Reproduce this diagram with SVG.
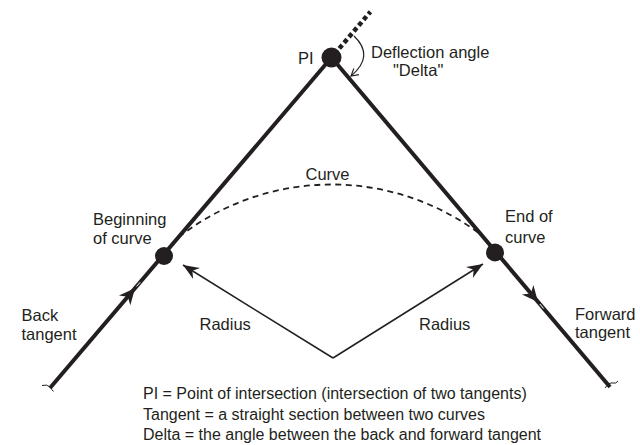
<svg xmlns="http://www.w3.org/2000/svg" width="640" height="445" viewBox="0 0 640 445">
  <defs>
    <style>
      .lbl { font-family: "Liberation Sans", Arial, sans-serif; font-size: 16.5px; fill: #231f20; }
      .note { font-family: "Liberation Sans", Arial, sans-serif; font-size: 16px; fill: #231f20; }
      .tangent { stroke: #231f20; stroke-width: 4; fill: none; stroke-linecap: butt; }
      .ext { stroke: #231f20; stroke-width: 4.5; fill: none; stroke-dasharray: 4.5 3; }
      .curve { stroke: #231f20; stroke-width: 1.8; fill: none; stroke-dasharray: 6 4.5; }
      .radius { stroke: #231f20; stroke-width: 1.5; fill: none; }
      .pt { fill: #231f20; }
      .barb { fill: #231f20; }
      .hair { stroke: #ffffff; stroke-width: 1; }
      .tick { stroke: #231f20; stroke-width: 1; fill: none; }
    </style>
    <marker id="rad-head" viewBox="-17 -8 18 16" markerWidth="18" markerHeight="16" refX="0" refY="0" orient="auto" markerUnits="userSpaceOnUse">
      <path d="M0,0 L-16,-6.5 L-11,0 L-16,6.5 Z" fill="#231f20"/>
    </marker>
    <marker id="open-head" viewBox="-10 -6 11 12" markerWidth="11" markerHeight="12" refX="0" refY="0" orient="auto" markerUnits="userSpaceOnUse">
      <path d="M-7,-4 L0,0 L-7,4" fill="none" stroke="#231f20" stroke-width="1.1"/>
    </marker>
  </defs>

  <g id="connectors">
    <!-- back tangent -->
    <line class="tangent" x1="50" y1="388" x2="331.5" y2="57.5"/>
    <!-- forward tangent -->
    <line class="tangent" x1="331.5" y1="57.5" x2="610" y2="387"/>
    <!-- extension beyond PI -->
    <line class="ext" x1="339.3" y1="48.4" x2="370.4" y2="11.8"/>
    <!-- curve -->
    <path class="curve" d="M179,237 A247.7,247.7 0 0 1 484,237"/>
    <!-- radius lines -->
    <line class="radius" x1="333" y1="358" x2="183" y2="265" marker-end="url(#rad-head)"/>
    <line class="radius" x1="333" y1="358" x2="483" y2="264" marker-end="url(#rad-head)"/>
    <!-- deflection angle arrow -->
    <path class="radius" d="M354,36 Q375,56 351,76" marker-end="url(#open-head)" style="stroke-width:1.2"/>
    <!-- tangent direction arrows -->
    <path class="barb" d="M0,0 L-16,-7.5 L-11,0 L-16,7.5 Z" transform="translate(135,288.3) rotate(-49.6)"/>
    <line class="hair" x1="136.6" y1="286.4" x2="140.2" y2="282.2"/>
    <path class="barb" d="M0,0 L-16,-7.5 L-11,0 L-16,7.5 Z" transform="translate(538,302) rotate(49.8)"/>
    <line class="hair" x1="539.8" y1="304" x2="543.6" y2="308.5"/>
    <!-- end ticks -->
    <path class="tick" d="M42,385.5 Q47,384 50,387 Q52,390 53.5,391.5"/>
    <path class="tick" d="M605,388 Q609,382 613,383 Q616,384 618,381"/>
  </g>

  <g id="pi">
    <circle class="pt" cx="331.5" cy="57.5" r="10"/>
    <text class="lbl" x="298" y="63.5">PI</text>
  </g>
  <g id="deflection">
    <text class="lbl" x="371" y="58">Deflection angle</text>
    <text class="lbl" x="393" y="75.5">"Delta"</text>
  </g>
  <g id="bc">
    <circle class="pt" cx="164" cy="256" r="9"/>
    <text class="lbl" x="93" y="225">Beginning</text>
    <text class="lbl" x="93" y="243.5">of curve</text>
  </g>
  <g id="ec">
    <circle class="pt" cx="495" cy="252.5" r="9"/>
    <text class="lbl" x="505" y="222">End of</text>
    <text class="lbl" x="505" y="243">curve</text>
  </g>
  <g id="curve-label">
    <text class="lbl" x="305.5" y="180">Curve</text>
  </g>
  <g id="back-tangent">
    <text class="lbl" x="21.5" y="321">Back</text>
    <text class="lbl" x="21.5" y="339.5">tangent</text>
  </g>
  <g id="forward-tangent">
    <text class="lbl" x="575" y="319.5">Forward</text>
    <text class="lbl" x="575" y="338">tangent</text>
  </g>
  <g id="radius-labels">
    <text class="lbl" x="199.5" y="330">Radius</text>
    <text class="lbl" x="419" y="330">Radius</text>
  </g>
  <g id="notes">
    <text class="note" x="143" y="399">PI = Point of intersection (intersection of two tangents)</text>
    <text class="note" x="143" y="419.5">Tangent = a straight section between two curves</text>
    <text class="note" x="143" y="440">Delta = the angle between the back and forward tangent</text>
  </g>
</svg>
